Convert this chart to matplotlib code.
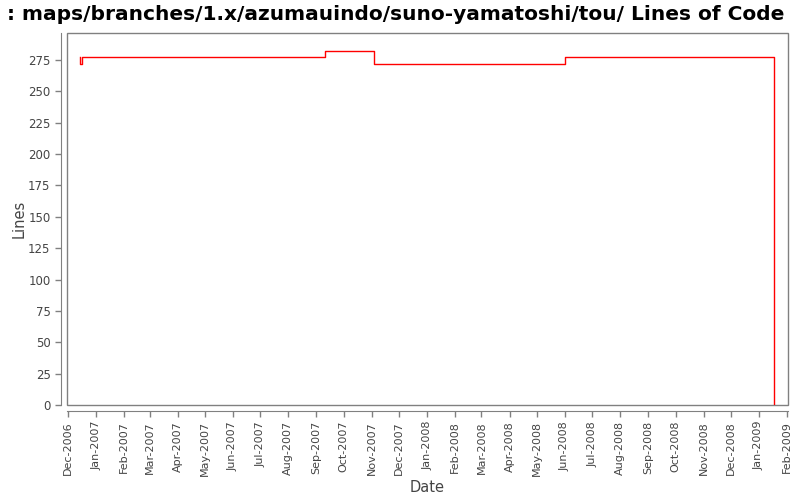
import matplotlib
matplotlib.use("Agg")
import matplotlib.pyplot as plt
import matplotlib.dates as mdates
from matplotlib.patches import Rectangle
import numpy as np

plt.rcParams["font.family"] = "DejaVu Sans"

title = ": maps/branches/1.x/azumauindo/suno-yamatoshi/tou/ Lines of Code"
dates = ["2006-12-14", "2006-12-14", "2006-12-17", "2007-09-11",
         "2007-11-03", "2008-06-01", "2009-01-18"]
lines = [277, 272, 277, 282, 272, 277, 0]

x = np.array(dates, dtype="datetime64[D]")
gray = "#808080"
txt = "#444444"

fig = plt.figure(figsize=(8, 5), dpi=100)
ax = fig.add_axes([66.5 / 800, 95 / 500, (788 - 66.5) / 800, (405 - 33) / 500])

ax.plot(x, lines, drawstyle="steps-post", color="red", lw=1)

ax.set_xlim(np.datetime64("2006-11-29T10:00"), np.datetime64("2009-02-02"))
ax.set_ylim(0, 296.5)
ax.set_yticks(np.arange(0, 276, 25))

ax.xaxis.set_major_locator(mdates.MonthLocator())
ax.xaxis.set_major_formatter(mdates.DateFormatter("%b-%Y"))

for s in ["top", "right"]:
    ax.spines[s].set_visible(False)
for s in ["left", "bottom"]:
    ax.spines[s].set_position(("outward", 4))
    ax.spines[s].set_color(gray)
ax.add_patch(Rectangle((0, 0), 1, 1, transform=ax.transAxes, fill=False,
                       edgecolor=gray, lw=1, clip_on=False))

ax.tick_params(colors=gray, labelcolor=txt, labelsize=8.5, length=4, width=1)
ax.tick_params(axis="x", labelrotation=90, labelsize=8)
ax.set_xlabel("Date", fontsize=10.5, color=txt, labelpad=3)
ax.set_ylabel("Lines", fontsize=10.5, color=txt, labelpad=1)
fig.suptitle(title, fontsize=14.5, fontweight="bold", x=0.495, y=0.99)

fig.savefig("out.png")
